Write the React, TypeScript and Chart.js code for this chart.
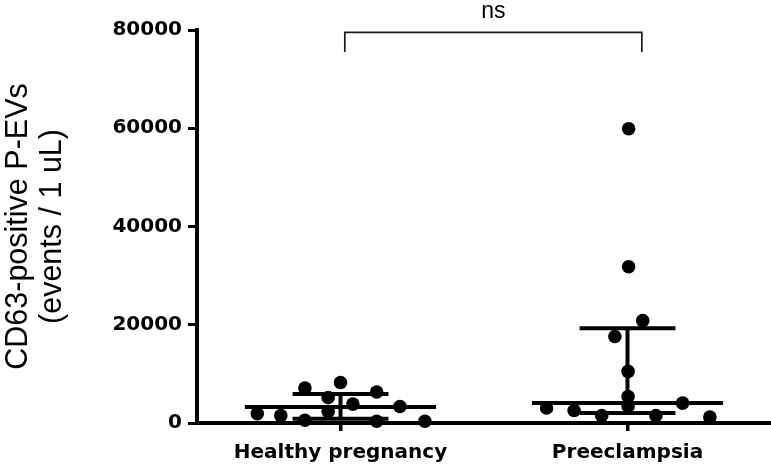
import React, { useEffect, useRef } from "react";
import { Chart, registerables } from "chart.js";

Chart.register(...registerables);

const categories = ["Healthy pregnancy", "Preeclampsia"];

const healthyValues = [7100, 8250, 6300, 5200, 3850, 3350, 1900, 1500, 2350, 550, 350, 350];
const healthyJitter = [-0.124, 0, 0.126, -0.043, 0.043, 0.207, -0.29, -0.208, -0.043, -0.124, 0.126, 0.294];

const preeclampsiaValues = [59900, 31800, 20850, 17600, 10500, 5400, 4050, 3350, 3050, 2550, 1500, 1500, 1200];
const preeclampsiaJitter = [0.004, 0.004, 0.053, -0.044, 0.002, 0.002, 0.192, 0.002, -0.282, -0.186, -0.09, 0.099, 0.287];

const medians = [3250, 4050];
const lowerQuartiles = [870, 2030];
const upperQuartiles = [5900, 19300];

const yTicks = [0, 20000, 40000, 60000, 80000];
const yTitle = ["CD63-positive P-EVs", "(events / 1 uL)"];

const comparisonLabel = "ns";
const bracketEnds = [1.015, 2.05];
const bracketLevels = [79500, 75500];

const bracketPlugin = {
  id: "bracket",
  afterDraw(chart: any) {
    const { ctx } = chart;
    const x = chart.scales.x;
    const y = chart.scales.y;
    const x1 = x.getPixelForValue(bracketEnds[0]);
    const x2 = x.getPixelForValue(bracketEnds[1]);
    const yTop = y.getPixelForValue(bracketLevels[0]);
    const yFoot = y.getPixelForValue(bracketLevels[1]);
    ctx.save();
    ctx.strokeStyle = "#1a1a1a";
    ctx.lineWidth = 1.7;
    ctx.beginPath();
    ctx.moveTo(x1, yFoot);
    ctx.lineTo(x1, yTop);
    ctx.lineTo(x2, yTop);
    ctx.lineTo(x2, yFoot);
    ctx.stroke();
    ctx.font = '23px "Liberation Sans", Arial, sans-serif';
    ctx.textAlign = "center";
    ctx.textBaseline = "alphabetic";
    ctx.fillStyle = "#000";
    ctx.fillText(comparisonLabel, (x1 + x2) / 2, yTop - 14);
    ctx.restore();
  },
};

export default function App() {
  const ref = useRef<HTMLCanvasElement>(null);

  useEffect(() => {
    const groups = [healthyValues, preeclampsiaValues];
    const jitters = [healthyJitter, preeclampsiaJitter];
    const pointData = groups.flatMap((vals, g) =>
      vals.map((v, i) => ({ x: g + 1 + jitters[g][i], y: v }))
    );

    const lineDs = (data: any[]) => ({
      type: "scatter",
      data,
      showLine: true,
      borderColor: "#000",
      backgroundColor: "#000",
      borderWidth: 4,
      pointRadius: 0,
      pointHoverRadius: 0,
      borderCapStyle: "butt",
      clip: false,
    });

    const statSets: any[] = [];
    categories.forEach((_, g) => {
      const c = g + 1;
      statSets.push(lineDs([{ x: c - 0.333, y: medians[g] }, { x: c + 0.333, y: medians[g] }]));
      statSets.push(lineDs([{ x: c - 0.167, y: lowerQuartiles[g] }, { x: c + 0.167, y: lowerQuartiles[g] }]));
      statSets.push(lineDs([{ x: c - 0.167, y: upperQuartiles[g] }, { x: c + 0.167, y: upperQuartiles[g] }]));
      statSets.push(lineDs([{ x: c, y: lowerQuartiles[g] }, { x: c, y: upperQuartiles[g] }]));
    });

    const chart = new Chart(ref.current as HTMLCanvasElement, {
      type: "scatter",
      data: {
        datasets: [
          {
            data: pointData,
            pointRadius: 6.8,
            pointHoverRadius: 6.8,
            backgroundColor: "#000",
            borderWidth: 0,
            clip: false,
          } as any,
          ...statSets,
        ],
      },
      options: {
        animation: false,
        responsive: false,
        events: [],
        layout: { autoPadding: false, padding: { top: 30, left: 0, right: 0, bottom: 0 } },
        plugins: { legend: { display: false }, tooltip: { enabled: false } },
        scales: {
          x: {
            type: "linear",
            min: 0.5,
            max: 2.5,
            afterBuildTicks: (scale: any) => {
              scale.ticks = categories.map((_, i) => ({ value: i + 1 }));
            },
            afterFit: (scale: any) => {
              scale.height = 45;
              scale.paddingLeft = 0;
              scale.paddingRight = 0;
            },
            ticks: {
              callback: (v: any) => categories[Math.round(Number(v)) - 1] ?? "",
              color: "#000",
              padding: 10,
              maxRotation: 0,
              autoSkip: false,
              font: { family: '"DejaVu Sans", sans-serif', weight: "bold", size: 20 },
            },
            grid: { drawOnChartArea: false, drawTicks: true, tickLength: 8, lineWidth: 3.5, color: "#000" },
            border: { display: true, width: 4, color: "#000" },
          },
          y: {
            type: "linear",
            min: 0,
            max: 80000,
            afterBuildTicks: (scale: any) => {
              scale.ticks = yTicks.map((v) => ({ value: v }));
            },
            afterFit: (scale: any) => {
              scale.width = 197;
            },
            ticks: {
              color: "#000",
              padding: 6,
              callback: (v: any) => String(v),
              font: { family: '"DejaVu Sans", sans-serif', weight: "bold", size: 20 },
            },
            grid: { drawOnChartArea: false, drawTicks: true, tickLength: 9, lineWidth: 3, color: "#000" },
            border: { display: true, width: 4, color: "#000" },
            title: {
              display: true,
              text: yTitle,
              color: "#000",
              padding: { top: 2, bottom: 0 },
              font: { family: '"Liberation Sans", Arial, sans-serif', size: 30.5, weight: "normal", lineHeight: 1.1 },
            },
          },
        },
      } as any,
      plugins: [bracketPlugin],
    });

    return () => chart.destroy();
  }, []);

  return (
    <div style={{ position: "fixed", left: 0, top: 0, width: 771, height: 468, background: "#fff" }}>
      <canvas ref={ref} width={771} height={468} style={{ display: "block", width: 771, height: 468 }} />
    </div>
  );
}
